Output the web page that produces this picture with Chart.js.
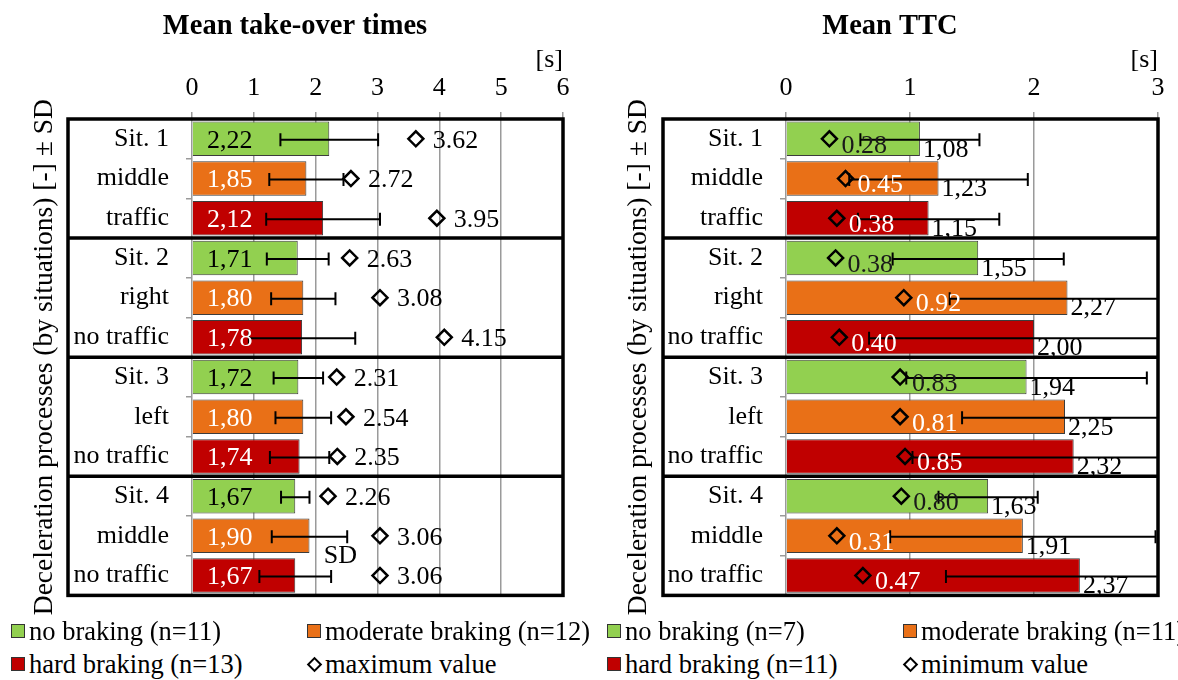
<!DOCTYPE html>
<html>
<head>
<meta charset="utf-8">
<script src="https://cdn.jsdelivr.net/npm/chart.js@4.4.1/dist/chart.umd.min.js"></script>
<style>
  body { margin: 0; background: #fff; width: 1178px; height: 680px; overflow: hidden; position: relative;
         font-family: 'Liberation Serif'; }
  .panel { position: absolute; top: 0; }
  .item { position: absolute; height: 30px; line-height: 30px; font-size: 26.5px; color: #000;
          font-family: 'Liberation Serif'; white-space: nowrap; display: flex; align-items: center; }
  .sw { width: 12px; height: 12px; border: 1.5px solid #333; margin-right: 4px; flex: none; }
  .dia { width: 7px; height: 7px; border: 2.5px solid #000; transform: rotate(45deg); margin: 0 5px 0 2px; flex: none; }
</style>
</head>
<body>
<div class="panel" style="left:0"><canvas id="takeover" width="590" height="628"></canvas></div>
<div class="panel" style="left:590px"><canvas id="ttc" width="588" height="628"></canvas></div>
<div id="legends"></div>

<script>
// categories (rows, top to bottom)
const categories = ['Sit. 1', 'middle', 'traffic', 'Sit. 2', 'right', 'no traffic',
                    'Sit. 3', 'left', 'no traffic', 'Sit. 4', 'middle', 'no traffic'];

// Mean take-over times [s]
const takeoverMean = [2.22, 1.85, 2.12, 1.71, 1.80, 1.78, 1.72, 1.80, 1.74, 1.67, 1.90, 1.67];
const takeoverSD   = [0.79, 0.60, 0.92, 0.50, 0.52, 0.86, 0.40, 0.45, 0.48, 0.23, 0.61, 0.58];
const takeoverMax  = [3.62, 2.72, 3.95, 2.63, 3.08, 4.15, 2.31, 2.54, 2.35, 2.26, 3.06, 3.06];
const takeoverMaxDrawn = [3.62, 2.57, 3.96, 2.55, 3.04, 4.08, 2.34, 2.49, 2.35, 2.20, 3.04, 3.04];
const takeoverTicks = [0, 1, 2, 3, 4, 5, 6];

// Mean TTC [s]
const ttcMean = [1.08, 1.23, 1.15, 1.55, 2.27, 2.00, 1.94, 2.25, 2.32, 1.63, 1.91, 2.37];
const ttcSD   = [0.48, 0.72, 0.57, 0.69, 0.95, 1.33, 0.97, 0.83, 1.30, 0.40, 1.07, 1.08];
const ttcMin  = [0.28, 0.45, 0.38, 0.38, 0.92, 0.40, 0.83, 0.81, 0.85, 0.80, 0.31, 0.47];
const ttcMinDrawn = [0.35, 0.48, 0.41, 0.40, 0.95, 0.43, 0.92, 0.92, 0.96, 0.93, 0.41, 0.62];
const ttcTicks = [0, 1, 2, 3];

const leftLegend  = ['no braking (n=11)', 'moderate braking (n=12)', 'hard braking (n=13)', 'maximum value'];
const rightLegend = ['no braking (n=7)', 'moderate braking (n=11)', 'hard braking (n=11)', 'minimum value'];

const barColors = ['#92D050', '#E97017', '#C00000'];
const FONT = "'Liberation Serif'";
const comma = v => v.toFixed(2).replace('.', ',');

// error bars, frame, group separators and value labels
function decor(cfg) {
  return {
    id: 'decor',
    afterDatasetDraw(chart, args) {
      if (args.index !== 0) return;
      const { ctx, chartArea: a, scales: { x, y } } = chart;
      ctx.save();
      ctx.beginPath();
      ctx.rect(a.left, a.top, a.right - a.left, a.bottom - a.top);
      ctx.clip();
      ctx.strokeStyle = '#000';
      ctx.lineWidth = 2;
      cfg.mean.forEach((m, i) => {
        const yc = y.getPixelForValue(i) + 1;
        const x1 = x.getPixelForValue(m - cfg.sd[i]);
        const x2 = x.getPixelForValue(m + cfg.sd[i]);
        ctx.beginPath();
        ctx.moveTo(x1, yc); ctx.lineTo(x2, yc);
        ctx.moveTo(x1, yc - 6.5); ctx.lineTo(x1, yc + 6.5);
        ctx.moveTo(x2, yc - 6.5); ctx.lineTo(x2, yc + 6.5);
        ctx.stroke();
      });
      ctx.restore();
    },
    afterDatasetsDraw(chart) {
      const { ctx, chartArea: a, scales: { x, y } } = chart;
      ctx.save();
      // frame + separators between situations
      ctx.strokeStyle = '#000';
      ctx.lineWidth = 3.5;
      ctx.strokeRect(cfg.frameLeft, a.top, a.right - cfg.frameLeft, a.bottom - a.top);
      categories.forEach((c, i) => {
        if (i === 0 || !c.startsWith('Sit.')) return;
        const ys = (y.getPixelForValue(i - 1) + y.getPixelForValue(i)) / 2;
        ctx.beginPath();
        ctx.moveTo(cfg.frameLeft, ys); ctx.lineTo(a.right, ys);
        ctx.stroke();
      });

      ctx.font = '26px ' + FONT;
      ctx.textBaseline = 'middle';
      ctx.textAlign = 'left';
      cfg.mean.forEach((m, i) => {
        const yc = y.getPixelForValue(i);
        const onGreen = i % 3 === 0;
        if (cfg.inside) {
          ctx.fillStyle = onGreen ? '#000' : '#fff';
          ctx.fillText(comma(m), x.getPixelForValue(0) + 15, yc + 2);
          ctx.fillStyle = '#000';
          ctx.fillText(cfg.extreme[i].toFixed(2), x.getPixelForValue(cfg.drawn[i]) + 17, yc + 2);
        } else {
          ctx.fillStyle = '#000';
          ctx.fillText(comma(m), x.getPixelForValue(m) + 3, yc + 11);
          ctx.fillStyle = onGreen ? '#1a1a1a' : '#fff';
          ctx.fillText(cfg.extreme[i].toFixed(2), x.getPixelForValue(cfg.drawn[i]) + 12, yc + 7);
        }
      });
      if (cfg.note) {
        ctx.fillStyle = '#000';
        ctx.textAlign = 'center';
        const yn = (y.getPixelForValue(cfg.note.rows[0]) + y.getPixelForValue(cfg.note.rows[1])) / 2;
        ctx.fillText(cfg.note.text, x.getPixelForValue(cfg.note.at), yn);
      }
      ctx.restore();
    }
  };
}

function makeChart(id, cfg) {
  return new Chart(document.getElementById(id), {
    type: 'bar',
    data: {
      labels: categories,
      datasets: [
        {
          data: cfg.mean,
          indexAxis: 'y',
          backgroundColor: categories.map((_, i) => barColors[i % 3]),
          borderColor: '#3c3c3c',
          borderWidth: 1,
          barPercentage: 0.87,
          categoryPercentage: 1,
          order: 2
        },
        {
          type: 'line',
          indexAxis: 'y',
          data: cfg.drawn.map((v, i) => ({ x: v, y: i })),
          showLine: false,
          pointStyle: 'rectRot',
          pointRadius: 7.5,
          pointHoverRadius: 7.5,
          pointBorderWidth: 2.5,
          pointBorderColor: '#000',
          pointBackgroundColor: 'rgba(0,0,0,0)',
          order: 1
        }
      ]
    },
    options: {
      indexAxis: 'y',
      responsive: false,
      animation: false,
      events: [],
      layout: { padding: { left: cfg.padLeft, right: cfg.padRight, top: 0, bottom: 15 } },
      plugins: {
        legend: { display: false },
        tooltip: { enabled: false },
        title: {
          display: true,
          text: cfg.title,
          color: '#000',
          font: { family: FONT, size: 28.5, weight: 'bold', lineHeight: 1.2 },
          padding: { top: 10, bottom: 0 }
        }
      },
      scales: {
        x: {
          type: 'linear',
          position: 'top',
          min: cfg.ticks[0],
          max: cfg.ticks[cfg.ticks.length - 1],
          afterBuildTicks: s => { s.ticks = cfg.ticks.map(v => ({ value: v })); },
          ticks: { color: '#000', font: { family: FONT, size: 26 }, padding: 8 },
          grid: { color: '#9a9a9a', lineWidth: 1.5, tickLength: 7 },
          border: { display: false },
          title: {
            display: true, text: '[s]', align: 'end', color: '#000',
            font: { family: FONT, size: 26, lineHeight: 1.2 },
            padding: { top: 0, bottom: 0 }
          },
          afterFit: s => { s.height = 119 - (s.chart.titleBlock ? s.chart.titleBlock.height : 44.2); }
        },
        y: {
          type: 'category',
          position: 'left',
          offset: true,
          ticks: { color: '#000', font: { family: FONT, size: 26 }, padding: 17, autoSkip: false },
          grid: { offset: true, drawOnChartArea: false, tickLength: 6, color: '#9a9a9a', lineWidth: 1.5 },
          border: { display: false },
          title: {
            display: true,
            text: 'Deceleration processes (by situations) [-] ± SD',
            color: '#000',
            font: { family: FONT, size: 27.5, lineHeight: 1.2 },
            padding: { top: cfg.yTitlePad, bottom: 0 }
          },
          afterFit: s => { s.width = cfg.axisWidth; }
        }
      }
    },
    plugins: [decor(cfg)]
  });
}

makeChart('takeover', {
  title: 'Mean take-over times',
  mean: takeoverMean, sd: takeoverSD, extreme: takeoverMax, drawn: takeoverMaxDrawn,
  ticks: takeoverTicks, padLeft: 27, axisWidth: 165, padRight: 27, frameLeft: 68, yTitlePad: 1.5,
  inside: true, note: { text: 'SD', at: 2.4, rows: [10, 11] }
});

makeChart('ttc', {
  title: 'Mean TTC',
  mean: ttcMean, sd: ttcSD, extreme: ttcMin, drawn: ttcMinDrawn,
  ticks: ttcTicks, padLeft: 32, axisWidth: 164, padRight: 20, frameLeft: 73, yTitlePad: 0,
  inside: false
});

// legends (HTML text)
function legend(labels, left) {
  const host = document.getElementById('legends');
  const cols = [left, left + 296];
  const rows = [616, 649];
  labels.forEach((t, i) => {
    const d = document.createElement('div');
    d.className = 'item';
    d.style.left = cols[i % 2] + 'px';
    d.style.top = rows[Math.floor(i / 2)] + 'px';
    const mark = document.createElement('span');
    if (i === 3) {
      mark.className = 'dia';
    } else {
      mark.className = 'sw';
      mark.style.background = barColors[i];
    }
    d.appendChild(mark);
    d.appendChild(document.createTextNode(t));
    host.appendChild(d);
  });
}
legend(leftLegend, 11);
legend(rightLegend, 607);
</script>
</body>
</html>
